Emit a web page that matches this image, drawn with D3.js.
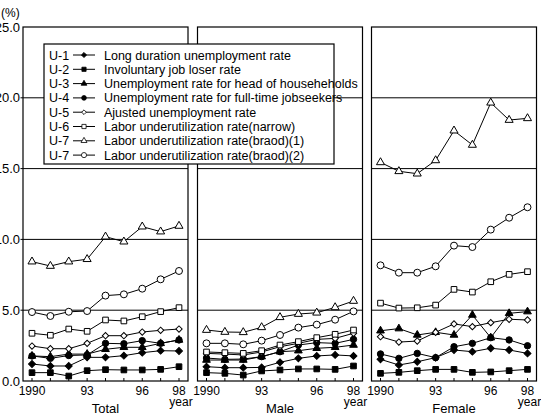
<!DOCTYPE html>
<html>
<head>
<meta charset="utf-8">
<script src="https://cdn.jsdelivr.net/npm/d3@7"></script>
<style>
  body { margin: 0; background: #fff; }
  svg { display: block; font-family: "Liberation Sans", Arial, sans-serif; }
</style>
</head>
<body>
<script>
// data (%), 1990..1998
var years = [1990, 1991, 1992, 1993, 1994, 1995, 1996, 1997, 1998];
var yearLabels = {1990: "1990", 1993: "93", 1996: "96", 1998: "98"};
var yTicks = [0, 5, 10, 15, 20, 25];
var codes = ["U-1", "U-2", "U-3", "U-4", "U-5", "U-6", "U-7", "U-7"];
var names = [
  "Long duration unemployment rate",
  "Involuntary job loser rate",
  "Unemployment rate for head of househeholds",
  "Unemployment rate for full-time jobseekers",
  "Ajusted unemployment rate",
  "Labor underutilization rate(narrow)",
  "Labor underutilization rate(braod)(1)",
  "Labor underutilization rate(braod)(2)"
];
var panelTitles = ["Total", "Male", "Female"];

// rows: U-1, U-2, U-3, U-4, U-5, U-6, U-7(1), U-7(2)
var totalRates = [
  [1.20, 1.06, 1.06, 1.67, 1.67, 1.79, 2.00, 2.14, 2.12],
  [0.59, 0.59, 0.35, 0.73, 0.80, 0.78, 0.78, 0.82, 1.01],
  [1.77, 1.72, 1.90, 1.90, 2.24, 2.38, 2.38, 2.66, 2.90],
  [1.77, 1.60, 1.80, 1.84, 2.66, 2.63, 2.85, 2.66, 2.90],
  [2.47, 2.28, 2.28, 2.66, 3.20, 3.20, 3.46, 3.58, 3.67],
  [3.37, 3.23, 3.67, 3.51, 4.31, 4.24, 4.54, 4.90, 5.18],
  [8.43, 8.12, 8.43, 8.60, 10.19, 9.84, 10.90, 10.55, 10.95],
  [4.87, 4.59, 4.89, 4.94, 6.03, 6.12, 6.52, 7.18, 7.77]
];
var maleRates = [
  [1.01, 0.94, 0.94, 0.96, 1.32, 1.60, 1.77, 1.84, 1.77],
  [0.59, 0.54, 0.42, 0.71, 0.78, 0.85, 0.85, 0.82, 1.06],
  [1.48, 1.48, 1.48, 1.72, 2.07, 2.14, 2.31, 2.38, 2.54],
  [1.62, 1.53, 1.55, 1.72, 2.07, 2.54, 2.71, 2.66, 2.94],
  [1.95, 1.90, 1.84, 2.05, 2.42, 2.66, 2.94, 3.01, 3.37],
  [2.05, 2.00, 1.95, 2.14, 2.54, 2.78, 3.06, 3.30, 3.60],
  [3.60, 3.46, 3.44, 3.79, 4.50, 4.73, 4.82, 5.20, 5.65],
  [2.66, 2.66, 2.59, 2.85, 3.25, 3.77, 3.98, 4.33, 4.92]
];
var femaleRates = [
  [1.53, 1.13, 1.36, 1.65, 2.19, 2.07, 2.31, 2.19, 1.95],
  [0.54, 0.61, 0.73, 0.82, 0.82, 0.61, 0.64, 0.73, 0.82],
  [3.55, 3.70, 3.25, 3.44, 3.25, 4.66, 3.06, 4.78, 4.90],
  [1.91, 1.60, 1.95, 1.65, 2.42, 2.66, 3.06, 2.90, 2.49],
  [3.13, 2.75, 2.82, 3.44, 4.03, 3.84, 4.12, 4.36, 4.31],
  [5.50, 5.15, 5.17, 5.36, 6.47, 6.28, 7.01, 7.53, 7.72],
  [15.44, 14.81, 14.64, 15.58, 17.68, 16.67, 19.65, 18.43, 18.55],
  [8.17, 7.65, 7.65, 8.10, 9.56, 9.46, 10.69, 11.53, 12.27]
];
var panelData = [totalRates, maleRates, femaleRates];

// marker shapes per series
var markers = [
  {type: d3.symbolSquare, size: 24, rot: 45, fill: "#000"},   // filled diamond
  {type: d3.symbolSquare, size: 32, rot: 0, fill: "#000"},    // filled square
  {type: d3.symbolTriangle, size: 26, rot: 0, fill: "#000"},  // filled triangle
  {type: d3.symbolCircle, size: 32, rot: 0, fill: "#000"},    // filled circle
  {type: d3.symbolSquare, size: 20, rot: 45, fill: "#fff"},   // open diamond
  {type: d3.symbolSquare, size: 32, rot: 0, fill: "#fff"},    // open square
  {type: d3.symbolTriangle, size: 28, rot: 0, fill: "#fff"},  // open triangle
  {type: d3.symbolCircle, size: 38, rot: 0, fill: "#fff"}     // open circle
];

var width = 541, height = 420;
var panelW = 165, panelTop = 27, panelBottom = 381;
var panelLefts = [23, 197.5, 371.5];

var svg = d3.select("body").append("svg")
    .attr("width", width)
    .attr("height", height);

var y = d3.scaleLinear().domain([0, 25]).range([panelBottom, panelTop]);

var line = function(x) {
  return d3.line()
    .x(function(d, i) { return x(years[i]); })
    .y(function(d) { return y(d); });
};

// y labels
svg.append("text")
    .attr("x", 1).attr("y", 17)
    .attr("font-size", 12)
    .text("(%)");

svg.selectAll(".ylab").data(yTicks).enter().append("text")
    .attr("class", "ylab")
    .attr("x", 20)
    .attr("y", function(d) { return y(d) + 4.5; })
    .attr("text-anchor", "end")
    .attr("font-size", 13)
    .text(function(d) { return d.toFixed(1); });

svg.selectAll(".ytick").data(yTicks.slice(1, 5)).enter().append("line")
    .attr("x1", 20.5).attr("x2", 23)
    .attr("y1", function(d) { return y(d); })
    .attr("y2", function(d) { return y(d); })
    .attr("stroke", "#000");

panelLefts.forEach(function(left, p) {
  var x = d3.scaleLinear().domain([1990, 1998]).range([left + 9, left + 156]);
  var g = svg.append("g");

  // gridlines
  g.selectAll(".grid").data(yTicks.slice(1, 5)).enter().append("line")
      .attr("x1", left).attr("x2", left + panelW)
      .attr("y1", function(d) { return y(d); })
      .attr("y2", function(d) { return y(d); })
      .attr("stroke", "#000").attr("stroke-width", 1);

  // frame
  g.append("rect")
      .attr("x", left).attr("y", panelTop)
      .attr("width", panelW).attr("height", panelBottom - panelTop)
      .attr("fill", "none").attr("stroke", "#000").attr("stroke-width", 1.2);

  // x ticks (inward)
  g.selectAll(".xtick").data(years).enter().append("line")
      .attr("x1", function(d) { return x(d); })
      .attr("x2", function(d) { return x(d); })
      .attr("y1", panelBottom).attr("y2", panelBottom - 3)
      .attr("stroke", "#000");

  g.selectAll(".xlab").data(years.filter(function(d) { return yearLabels[d]; }))
    .enter().append("text")
      .attr("x", function(d) { return x(d); })
      .attr("y", 394.5)
      .attr("text-anchor", "middle")
      .attr("font-size", 12)
      .text(function(d) { return yearLabels[d]; });

  g.append("text")
      .attr("x", x(1998) + 2).attr("y", 406)
      .attr("text-anchor", "middle")
      .attr("font-size", 12)
      .text("year");

  g.append("text")
      .attr("x", left + panelW / 2).attr("y", 413)
      .attr("text-anchor", "middle")
      .attr("font-size", 13)
      .text(panelTitles[p]);

  // series
  panelData[p].forEach(function(vals, s) {
    g.append("path")
        .attr("d", line(x)(vals))
        .attr("fill", "none")
        .attr("stroke", "#000")
        .attr("stroke-width", 1);
    var m = markers[s];
    g.selectAll(".m" + s).data(vals).enter().append("path")
        .attr("d", d3.symbol().type(m.type).size(m.size))
        .attr("transform", function(d, i) {
          return "translate(" + x(years[i]) + "," + y(d) + ") rotate(" + m.rot + ")";
        })
        .attr("fill", m.fill)
        .attr("stroke", "#000")
        .attr("stroke-width", 1);
  });
});

// legend
var legend = svg.append("g");
legend.append("rect")
    .attr("x", 44).attr("y", 44)
    .attr("width", 290).attr("height", 120)
    .attr("fill", "#fff").attr("stroke", "#000").attr("stroke-width", 1.2);

codes.forEach(function(c, i) {
  var cy = 55 + i * 14.3;
  var m = markers[i];
  legend.append("text")
      .attr("x", 49).attr("y", cy + 4.5)
      .attr("font-size", 12.5)
      .text(c);
  legend.append("line")
      .attr("x1", 73).attr("x2", 95)
      .attr("y1", cy).attr("y2", cy)
      .attr("stroke", "#000");
  legend.append("path")
      .attr("d", d3.symbol().type(m.type).size(m.size * 0.55))
      .attr("transform", "translate(84," + cy + ") rotate(" + m.rot + ")")
      .attr("fill", m.fill)
      .attr("stroke", "#000")
      .attr("stroke-width", 0.8);
  legend.append("text")
      .attr("x", 104).attr("y", cy + 4.5)
      .attr("font-size", 12.5)
      .text(names[i]);
});
</script>
</body>
</html>
